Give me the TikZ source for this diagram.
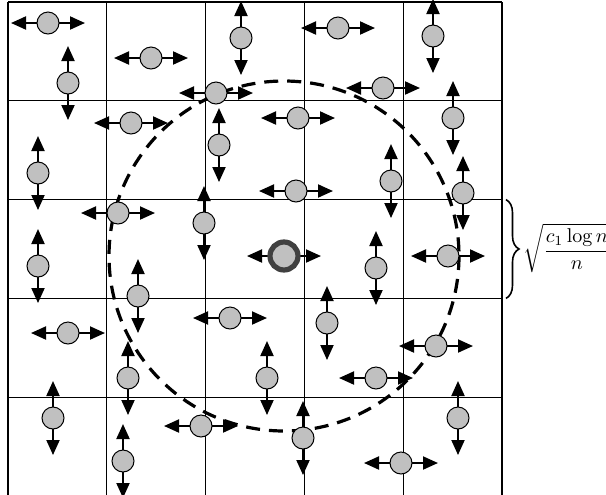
\documentclass[tikz,border=0pt]{standalone}
\usepackage{amsmath}
\usetikzlibrary{arrows.meta,decorations.pathreplacing}
\definecolor{dotgray}{HTML}{C0C0C0}
\definecolor{ringgray}{HTML}{404040}
\pgfdeclarelayer{bg}
\pgfsetlayers{bg,main}
\tikzset{
  dot/.style={circle,draw=black,line width=0.5pt,fill=dotgray,minimum size=11pt,inner sep=0pt},
  ctr/.style={circle,draw=ringgray,line width=2.6pt,fill=dotgray,minimum size=14pt,inner sep=0pt},
  arr/.style={line width=1pt,-{Triangle[length=7.5pt,width=6.5pt]}},
  gridline/.style={line width=0.55pt,black},
  rangecircle/.style={line width=1.6pt,dash pattern=on 7pt off 4.5pt},
  bracestyle/.style={line width=0.8pt,decorate,decoration={brace,amplitude=6.5pt}}
}
\newcommand\hdot[3]{\node[dot] (#1) at (#2,#3) {};
  \begin{pgfonlayer}{bg}\draw[arr] (#1.center) -- ++(-37,0);\draw[arr] (#1.center) -- ++(37,0);\end{pgfonlayer}}
\newcommand\vdot[3]{\node[dot] (#1) at (#2,#3) {};
  \begin{pgfonlayer}{bg}\draw[arr] (#1.center) -- ++(0,-37);\draw[arr] (#1.center) -- ++(0,37);\end{pgfonlayer}}
\begin{document}
\begin{tikzpicture}[x=0.5pt,y=-0.5pt]
\useasboundingbox (0,0) rectangle (606,494);
\begin{pgfonlayer}{bg}
  \foreach \x in {8,106.8,205.6,304.4,403.2} \draw[gridline] (\x,2) -- (\x,496);
  \draw[gridline,line width=1pt] (502,2) -- (502,496);
  \foreach \y in {2,100.8,199.6,298.4,397.2} \draw[gridline] (8,\y) -- (502,\y);
  \draw[rangecircle] (284,256) circle[radius=175];
\end{pgfonlayer}
\hdot{n1}{48}{23}
\vdot{n2}{68}{83}
\hdot{n3}{151}{58}
\vdot{n4}{241}{38}
\hdot{n5}{216}{93}
\hdot{n6}{338}{28}
\vdot{n7}{433}{36}
\hdot{n8}{383}{88}
\hdot{n9}{131}{123}
\vdot{n10}{219}{145}
\vdot{n11}{38}{173}
\hdot{n12}{298}{118}
\hdot{n13}{296}{191}
\vdot{n14}{391}{181}
\vdot{n15}{453}{118}
\vdot{n16}{463}{193}
\hdot{n17}{118}{213}
\vdot{n18}{204}{223}
\vdot{n19}{38}{266}
\vdot{n21}{376}{268}
\hdot{n22}{448}{256}
\vdot{n23}{138}{296}
\hdot{n24}{68}{333}
\hdot{n25}{230}{318}
\vdot{n26}{128}{378}
\vdot{n27}{327}{323}
\vdot{n28}{267}{378}
\hdot{n29}{376}{378}
\hdot{n30}{436}{346}
\vdot{n31}{53}{418}
\hdot{n32}{201}{426}
\vdot{n33}{123}{461}
\vdot{n34}{303}{438}
\vdot{n35}{458}{418}
\hdot{n36}{401}{463}
\node[ctr] (c) at (284,256) {};
\begin{pgfonlayer}{bg}
  \draw[arr] (c.center) -- ++(-37,0);
  \draw[arr] (c.center) -- ++(37,0);
\end{pgfonlayer}
\coordinate (btop) at (506,199.6);
\coordinate (bbot) at (506,298.4);
\draw[bracestyle] (btop) -- (bbot);
\node[anchor=west,inner sep=0pt] (lbl) at (523,248) {$\sqrt{\dfrac{c_1\log n}{n}}$};
\end{tikzpicture}
\end{document}
